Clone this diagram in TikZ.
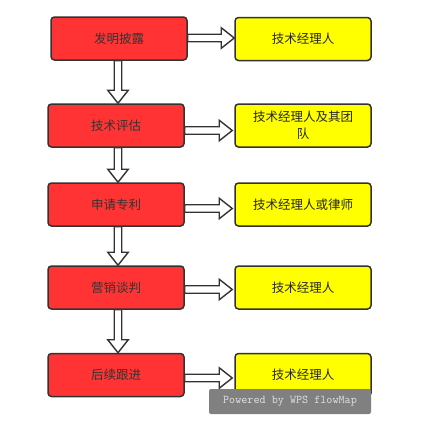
\documentclass[tikz,border=0pt]{standalone}
\usepackage{fontspec}
\newfontfamily\cjk{Noto Sans CJK SC}
\usetikzlibrary{calc}
\definecolor{boxred}{RGB}{255,51,51}
\definecolor{boxyel}{RGB}{255,255,0}
\definecolor{edge}{RGB}{51,51,51}
\definecolor{wmgray}{RGB}{128,128,128}
\definecolor{wmtext}{RGB}{225,225,225}
\tikzset{
  box/.style={draw=edge, line width=1.5pt, rounded corners=3.5pt, minimum width=136pt, minimum height=43pt, inner sep=2pt, font=\cjk\fontsize{12.5}{17}\selectfont, align=center},
  redbox/.style={box, fill=boxred, text=edge},
  yelbox/.style={box, fill=boxyel, text=black!85},
  hollow/.style={draw=edge, line width=1.4pt, fill=white, line join=miter},
}
\newcommand{\hollowarr}[2]{%
  \coordinate (hs) at (#1);
  \coordinate (ht) at (#2);
  \coordinate (hb) at ($(ht)!13pt!(hs)$);
  \draw[hollow] ($(hs)!3.75pt!90:(ht)$) -- ($(hb)!3.75pt!90:(ht)$) -- ($(hb)!10.25pt!90:(ht)$) -- (ht) -- ($(hb)!10.25pt!-90:(ht)$) -- ($(hb)!3.75pt!-90:(ht)$) -- ($(hs)!3.75pt!-90:(ht)$) -- cycle;}
\begin{document}
\begin{tikzpicture}[x=1pt, y=-1pt]
  \fill[white] (0,0) rectangle (433,423);
  \useasboundingbox (0,0) rectangle (433,423);
  % left column
  \node[redbox] (r1) at (119,38.5) {发明披露};
  \node[redbox] (r2) at (116,125.5) {技术评估};
  \node[redbox] (r3) at (116,204.5) {申请专利};
  \node[redbox] (r4) at (116,287.5) {营销谈判};
  \node[redbox] (r5) at (116,375) {后续跟进};
  % right column
  \node[yelbox] (y1) at (303,39) {技术经理人};
  \node[yelbox] (y2) at (303,125.5) {技术经理人及其团\\队};
  \node[yelbox] (y3) at (303,204.5) {技术经理人或律师};
  \node[yelbox] (y4) at (303,287.5) {技术经理人};
  \node[yelbox] (y5) at (303,375) {技术经理人};
  % vertical arrows
  \coordinate (vx) at (118,0);
  \hollowarr{r1.south -| vx}{r2.north -| vx}
  \hollowarr{r2.south -| vx}{r3.north -| vx}
  \hollowarr{r3.south -| vx}{r4.north -| vx}
  \hollowarr{r4.south -| vx}{r5.north -| vx}
  % horizontal arrows
  \coordinate (h1) at (0,38);
  \coordinate (h2) at (0,130.5);
  \coordinate (h3) at (0,208.5);
  \coordinate (h4) at (0,289.5);
  \coordinate (h5) at (0,378);
  \hollowarr{r1.east |- h1}{y1.west |- h1}
  \hollowarr{r2.east |- h2}{[xshift=-2pt]y2.west |- h2}
  \hollowarr{r3.east |- h3}{[xshift=-2pt]y3.west |- h3}
  \hollowarr{r4.east |- h4}{[xshift=-2pt]y4.west |- h4}
  \hollowarr{r5.east |- h5}{[xshift=-2pt]y5.west |- h5}
  % watermark
  \node[fill=wmgray, rounded corners=2pt, minimum width=162pt, minimum height=25pt, inner sep=0pt, text=wmtext, font=\ttfamily\fontsize{11.8}{13}\selectfont] (wm) at (290,401.5) {Powered by WPS flowMap};
\end{tikzpicture}
\end{document}
